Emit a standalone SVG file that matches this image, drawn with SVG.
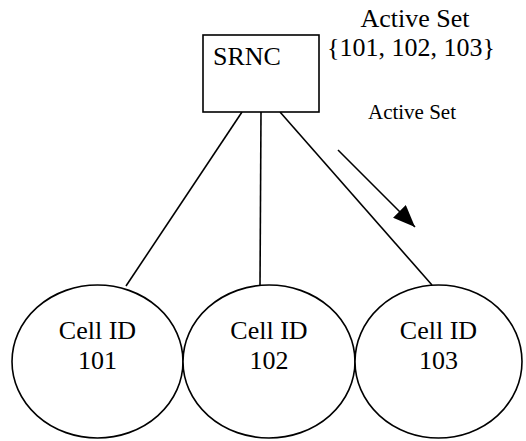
<svg xmlns="http://www.w3.org/2000/svg" width="526" height="441" viewBox="0 0 526 441">
<style>
  .shape { fill: #fff; stroke: #000; stroke-width: 1.6; }
  .conn { stroke: #000; stroke-width: 1.6; fill: none; }
  .t { font-family: "Liberation Serif", "Times New Roman", serif; fill: #000; }
  .big { font-size: 26px; }
  .small { font-size: 21px; }
</style>
<defs>
  <marker id="ahb" viewBox="0 0 22 18" refX="22" refY="9" markerWidth="22" markerHeight="18" markerUnits="userSpaceOnUse" orient="auto">
    <path d="M0,0 L22,9 L0,18 Z" fill="#000"/>
  </marker>
</defs>
<g id="connectors">
  <line class="conn" x1="242" y1="112" x2="126" y2="286"/>
  <line class="conn" x1="261" y1="112" x2="260" y2="286"/>
  <line class="conn" x1="280" y1="112" x2="432" y2="285"/>
  <line class="conn" x1="338" y1="150" x2="415" y2="227" marker-end="url(#ahb)"/>
</g>
<g id="srnc">
  <rect class="shape" x="203" y="35" width="116" height="77"/>
  <text class="t big" x="213" y="65">SRNC</text>
</g>
<g id="active-set-label">
  <text class="t big" x="415" y="27" text-anchor="middle">Active Set</text>
  <text class="t big" x="411" y="56" text-anchor="middle">{101, 102, 103}</text>
</g>
<g id="active-set-arrow-label">
  <text class="t small" x="412" y="119" text-anchor="middle">Active Set</text>
</g>
<g id="cell101">
  <ellipse class="shape" cx="97.5" cy="361.5" rx="85.5" ry="76.5"/>
  <text class="t big" x="97.5" y="339" text-anchor="middle">Cell ID</text>
  <text class="t big" x="97.5" y="369" text-anchor="middle">101</text>
</g>
<g id="cell102">
  <ellipse class="shape" cx="269" cy="361.5" rx="86" ry="76.5"/>
  <text class="t big" x="269" y="339" text-anchor="middle">Cell ID</text>
  <text class="t big" x="269" y="369" text-anchor="middle">102</text>
</g>
<g id="cell103">
  <ellipse class="shape" cx="438.5" cy="361.5" rx="83.5" ry="76.5"/>
  <text class="t big" x="438.5" y="339" text-anchor="middle">Cell ID</text>
  <text class="t big" x="438.5" y="369" text-anchor="middle">103</text>
</g>
</svg>
